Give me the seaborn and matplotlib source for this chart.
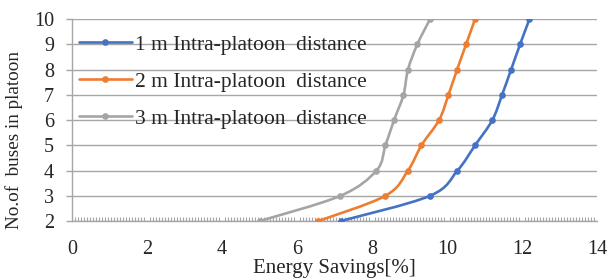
import numpy as np
import pandas as pd
import matplotlib
matplotlib.use("Agg")
import matplotlib.pyplot as plt
import seaborn as sns
from matplotlib.path import Path
from matplotlib.patches import PathPatch
from matplotlib.lines import Line2D
from matplotlib.ticker import MultipleLocator

# data
buses = [2, 3, 4, 5, 6, 7, 8, 9, 10]
savings_1m = [7.17, 9.55, 10.28, 10.75, 11.21, 11.47, 11.71, 11.95, 12.20]
savings_2m = [6.57, 8.36, 8.96, 9.32, 9.79, 10.04, 10.27, 10.51, 10.75]
savings_3m = [5.01, 7.16, 8.12, 8.36, 8.59, 8.84, 8.96, 9.21, 9.55]
labels = ["1 m Intra-platoon  distance", "2 m Intra-platoon  distance", "3 m Intra-platoon  distance"]
colors = ["#4472C4", "#ED7D31", "#A5A5A5"]

sns.set_style("white")
plt.rcParams["font.family"] = ["Liberation Serif", "DejaVu Serif"]

df = pd.DataFrame({
    "x": savings_1m + savings_2m + savings_3m,
    "y": buses * 3,
    "series": [labels[0]] * 9 + [labels[1]] * 9 + [labels[2]] * 9,
})

fig = plt.figure(figsize=(6.08, 2.8), dpi=100)
ax = fig.add_axes([0.1184, 0.2107, 0.8635, 0.7214])


def smooth_path(xs, ys):
    # excel-like smoothed line (bezier through the points)
    p = np.column_stack([xs, ys])
    n = len(p)
    verts = [p[0]]
    codes = [Path.MOVETO]
    for i in range(n - 1):
        p0 = p[max(i - 1, 0)]
        p1 = p[i]
        p2 = p[i + 1]
        p3 = p[min(i + 2, n - 1)]
        c1 = p1 + (p2 - p0) / 6
        c2 = p2 - (p3 - p1) / 6
        verts += [c1, c2, p2]
        codes += [Path.CURVE4] * 3
    return Path(verts, codes)


for xs, c in zip([savings_1m, savings_2m, savings_3m], colors):
    ax.add_patch(PathPatch(smooth_path(xs, buses), fc="none", ec=c, lw=1.9,
                           zorder=3, clip_on=True))

sns.lineplot(data=df, x="x", y="y", hue="series", palette=colors, marker="o",
             markersize=4.8, markeredgewidth=0, linewidth=0, sort=False,
             estimator=None, legend=False, ax=ax, zorder=4)

ax.set_xlim(0, 14)
ax.set_ylim(2, 10)
ax.xaxis.set_major_locator(MultipleLocator(2))
ax.xaxis.set_minor_locator(MultipleLocator(0.08))
ax.yaxis.set_major_locator(MultipleLocator(1))

grid_c = "#A6A6A6"
ax.grid(axis="y", color=grid_c, lw=1)
ax.set_axisbelow(True)
for s in ["top", "right"]:
    ax.spines[s].set_visible(False)
for s in ["left", "bottom"]:
    ax.spines[s].set_color(grid_c)
    ax.spines[s].set_linewidth(1)

ax.tick_params(axis="x", which="major", direction="inout", length=9, width=1,
               color=grid_c, labelsize=14.5, pad=9.5)
ax.tick_params(axis="x", which="minor", direction="in", length=3, width=0.8,
               color=grid_c, bottom=True)
ax.tick_params(axis="y", which="major", direction="out", length=4.3, width=1,
               color=grid_c, labelsize=14.5, pad=8.6, left=True)

ax.set_xlabel("Energy Savings[%]", fontsize=15)
ax.set_ylabel("No.of  buses in platoon", fontsize=13.8)
ax.xaxis.set_label_coords(0.5, -0.19)
ax.yaxis.set_label_coords(-0.094, 0.40)

handles = [Line2D([], [], color=c, lw=1.9, marker="o", markersize=4.8,
                  markeredgewidth=0) for c in colors]
ax.legend(handles, labels, loc="upper left", bbox_to_anchor=(-0.008, 0.975),
          frameon=False, fontsize=15.5, handlelength=2.5, handletextpad=0.1,
          labelspacing=0.78, borderaxespad=0.2, borderpad=0.3)

fig.savefig("out.png", dpi=100)
